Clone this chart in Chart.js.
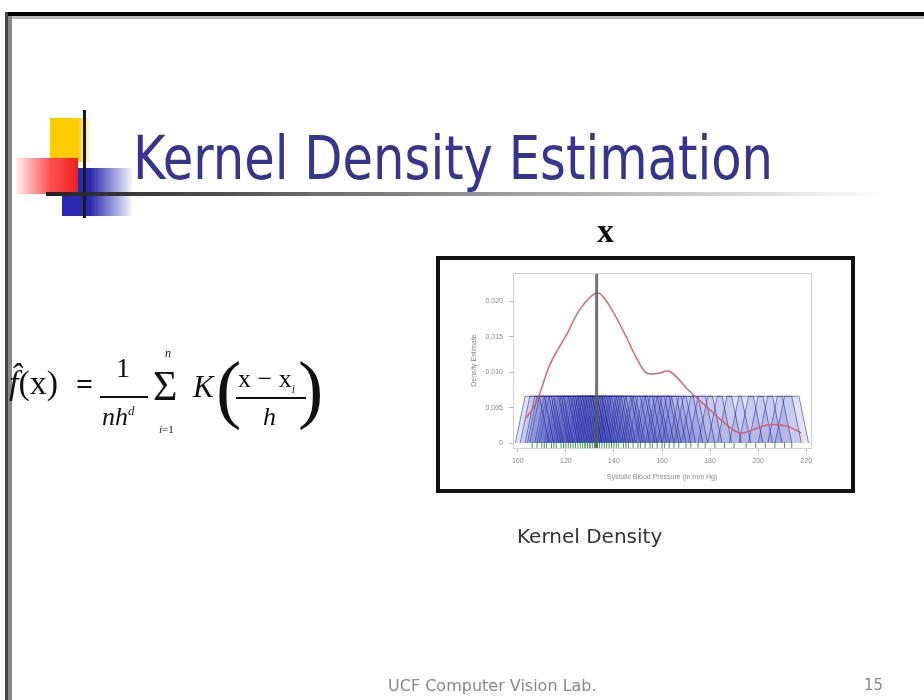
<!DOCTYPE html>
<html lang="en">
<head>
    <meta charset="UTF-8">
    <title>Kernel Density Estimation</title>
    <script src="https://cdn.jsdelivr.net/npm/chart.js"></script>
    <style>
        body {
            margin: 0;
            width: 924px;
            height: 700px;
            overflow: hidden;
            background: #fff;
            font-family: "DejaVu Sans", Arial, sans-serif;
        }

        #slide {
            position: relative;
            width: 924px;
            height: 700px;
            filter: blur(0.5px);
        }

        .abs { position: absolute; }

        /* slide frame */
        #frame-top { left: 5px; top: 12px; width: 919px; height: 4px; background: #000; }
        #frame-top2 { left: 8px; top: 16px; width: 916px; height: 3px; background: #bbb; }
        #frame-left { left: 5px; top: 12px; width: 3px; height: 688px; background: #444; }
        #frame-left2 { left: 8px; top: 16px; width: 4px; height: 684px; background: #888; }

        /* title decoration */
        #deco-yellow { left: 50px; top: 118px; width: 40px; height: 44px;
            background: linear-gradient(to right, #ffcc00 70%, rgba(255, 220, 80, 0.1)); }
        #deco-red { left: 16px; top: 158px; width: 62px; height: 36px;
            background: linear-gradient(to right, rgba(255, 170, 170, 0.2), #ff5050 55%, #ee2020); }
        #deco-blue { left: 62px; top: 168px; width: 70px; height: 48px;
            background: linear-gradient(to right, #2828b0 40%, rgba(70, 70, 210, 0.05)); }
        #deco-vline { left: 83px; top: 110px; width: 3px; height: 108px; background: #1a1a1a; }
        #deco-hline { left: 46px; top: 192px; width: 840px; height: 4px;
            background: linear-gradient(to right, #222, #888 45%, #ddd 85%, rgba(255, 255, 255, 0)); }

        #title {
            left: 133px; top: 127px;
            font-family: "Liberation Sans Narrow", "DejaVu Sans Condensed", "Liberation Sans", sans-serif;
            font-size: 61px; line-height: 61px;
            color: #34358f;
            white-space: nowrap;
            transform-origin: 0 0;
        }

        /* formula */
        .serif { font-family: "Liberation Serif", "DejaVu Serif", serif; color: #111; white-space: nowrap; }
        .bar { position: absolute; height: 2px; background: #111; }

        #chart-frame {
            left: 436px; top: 256px;
            width: 411px; height: 229px;
            border: 4px solid #111;
            background: #fff;
        }
        #chart { position: absolute; left: 440px; top: 260px; }

        #x-label { left: 597px; top: 214px; font-size: 34px; line-height: 34px; font-weight: bold; }

        #caption { left: 517px; top: 524px; font-size: 20px; color: #333; white-space: nowrap; }
        #footer { left: 388px; top: 676px; font-size: 16px; color: #888; white-space: nowrap; }
        #page { left: 864px; top: 676px; font-size: 15px; color: #888; }
    </style>
</head>
<body>
<div id="slide">
    <div class="abs" id="frame-top"></div>
    <div class="abs" id="frame-top2"></div>
    <div class="abs" id="frame-left"></div>
    <div class="abs" id="frame-left2"></div>

    <div class="abs" id="deco-yellow"></div>
    <div class="abs" id="deco-blue"></div>
    <div class="abs" id="deco-red"></div>
    <div class="abs" id="deco-vline"></div>
    <div class="abs" id="deco-hline"></div>
    <div class="abs" id="title">Kernel Density Estimation</div>

    <!-- f^(x) = 1/(nh^d) sum K((x - x_i)/h) -->
    <div class="abs serif" style="left:9px; top:364px; font-size:34px;"><i>f̂</i>(x)</div>
    <div class="abs serif" style="left:76px; top:367px; font-size:30px; font-weight:bold;">=</div>
    <div class="abs serif" style="left:116px; top:352px; font-size:28px;">1</div>
    <div class="bar" style="left:100px; top:396px; width:48px;"></div>
    <div class="abs serif" style="left:102px; top:402px; font-size:26px;"><i>nh</i><sup style="font-size:13px;"><i>d</i></sup></div>
    <div class="abs serif" style="left:165px; top:346px; font-size:12px;"><i>n</i></div>
    <div class="abs serif" style="left:153px; top:362px; font-size:42px;">&Sigma;</div>
    <div class="abs serif" style="left:159px; top:423px; font-size:11px;"><i>i</i>=1</div>
    <div class="abs serif" style="left:193px; top:369px; font-size:31px;"><i>K</i></div>
    <div class="abs serif" style="left:216px; top:345px; font-size:76px; font-weight:300;">(</div>
    <div class="abs serif" style="left:238px; top:364px; font-size:26px;">x &minus; x<sub style="font-size:12px;"><i>i</i></sub></div>
    <div class="bar" style="left:236px; top:397px; width:70px;"></div>
    <div class="abs serif" style="left:263px; top:402px; font-size:26px;"><i>h</i></div>
    <div class="abs serif" style="left:298px; top:345px; font-size:76px; font-weight:300;">)</div>

    <div class="abs serif" id="x-label">x</div>
    <div class="abs" id="chart-frame"></div>
    <canvas id="chart" width="411" height="229"></canvas>

    <div class="abs" id="caption">Kernel Density</div>
    <div class="abs" id="footer">UCF Computer Vision Lab.</div>
    <div class="abs" id="page">15</div>
</div>

<script>
    // tick labels
    const xTicks = [100, 120, 140, 160, 180, 200, 220];
    const yTicks = [0, 0.005, 0.010, 0.015, 0.020];
    const yTickLabels = ['0', '0.005', '0.010', '0.015', '0.020'];

    // red density estimate (x, density)
    const densityX = [103.5, 107.9, 113.4, 120.3, 125.9, 132.8, 137.0, 143.9, 149.4, 153.5, 158.0, 163.2, 171.5, 179.9, 186.8, 192.5, 198.0, 204.9, 211.8, 218.0];
    const densityY = [0.0035, 0.0059, 0.0111, 0.0153, 0.0189, 0.0212, 0.0200, 0.0158, 0.0120, 0.0099, 0.0098, 0.0101, 0.0073, 0.0047, 0.0026, 0.0014, 0.0019, 0.0026, 0.0024, 0.0014];

    // sample points (rug) and the kernel shape drawn on each
    const samples = [106, 108, 110, 111, 112, 114, 115, 116, 118, 119, 120, 121, 122, 123, 124, 125, 126, 127, 128, 128,
        129, 130, 130, 131, 132, 132, 133, 134, 135, 136, 137, 138, 139, 140, 141, 142, 144, 145, 146, 148,
        150, 151, 153, 155, 156, 158, 160, 161, 163, 165, 167, 170, 172, 175, 178, 182, 186, 190, 195, 199,
        203, 207, 211, 214];
    const kernelOffsets = [-7, -3, 3, 7];
    const kernelHeights = [0, 0.0066, 0.0066, 0];
    const rugLevel = -0.0003;

    // marked point x
    const markX = 132.8;
    const markSpan = [-0.0007, 0.024];

    const ctx = document.getElementById('chart').getContext('2d');

    const kernelSets = samples.map(s => ({
        type: 'line',
        data: kernelOffsets.map((o, i) => ({ x: s + o, y: kernelHeights[i] })),
        borderColor: 'rgba(35, 35, 140, 0.55)',
        backgroundColor: 'rgba(70, 80, 190, 0.16)',
        borderWidth: 1,
        fill: 'origin',
        pointRadius: 0,
        order: 4
    }));

    const boxPlugin = {
        id: 'plotBox',
        afterDraw(chart) {
            const a = chart.chartArea;
            const c = chart.ctx;
            c.save();
            c.strokeStyle = '#cfcfcf';
            c.lineWidth = 1;
            c.strokeRect(a.left + 0.5, a.top + 0.5, a.right - a.left, a.bottom - a.top);
            c.restore();
        }
    };

    new Chart(ctx, {
        type: 'line',
        data: {
            datasets: [
                ...kernelSets,
                {
                    type: 'scatter',
                    data: samples.map(s => ({ x: s, y: rugLevel })),
                    pointStyle: 'line',
                    rotation: 90,
                    pointRadius: 3,
                    borderColor: 'rgba(40, 140, 60, 0.85)',
                    borderWidth: 1,
                    order: 3
                },
                {
                    type: 'line',
                    data: densityX.map((x, i) => ({ x: x, y: densityY[i] })),
                    borderColor: 'rgba(220, 85, 95, 0.9)',
                    borderWidth: 1.5,
                    tension: 0.35,
                    pointRadius: 0,
                    fill: false,
                    order: 2
                },
                {
                    type: 'line',
                    data: markSpan.map(y => ({ x: markX, y: y })),
                    borderColor: 'rgba(90, 90, 90, 0.85)',
                    borderWidth: 3,
                    pointRadius: 0,
                    order: 1
                }
            ]
        },
        options: {
            responsive: false,
            devicePixelRatio: 1,
            animation: false,
            layout: { padding: { left: 30, right: 40, top: 13, bottom: 0 } },
            plugins: {
                legend: { display: false },
                tooltip: { enabled: false }
            },
            scales: {
                x: {
                    type: 'linear',
                    min: 98,
                    max: 222,
                    afterBuildTicks: s => { s.ticks = xTicks.map(v => ({ value: v })); },
                    afterFit: s => { s.height = 41; },
                    grid: { drawOnChartArea: false, drawTicks: true, tickLength: 4, color: '#bbb' },
                    border: { display: false },
                    ticks: { font: { size: 7, family: 'Arial' }, color: '#888', padding: 5, maxRotation: 0 },
                    title: {
                        display: true,
                        text: 'Systolic Blood Pressure (in mm Hg)',
                        font: { size: 7, family: 'Arial' },
                        color: '#888',
                        padding: { top: 0, bottom: 8 }
                    }
                },
                y: {
                    type: 'linear',
                    min: -0.0007,
                    max: 0.024,
                    afterBuildTicks: s => { s.ticks = yTicks.map(v => ({ value: v })); },
                    afterFit: s => { s.width = 43; },
                    grid: { drawOnChartArea: false, drawTicks: true, tickLength: 4, color: '#bbb' },
                    border: { display: false },
                    ticks: {
                        font: { size: 7, family: 'Arial' },
                        color: '#888',
                        padding: 6,
                        callback: (v) => yTickLabels[yTicks.indexOf(v)]
                    },
                    title: {
                        display: true,
                        text: 'Density Estimate',
                        font: { size: 7, family: 'Arial' },
                        color: '#888',
                        padding: 0
                    }
                }
            }
        },
        plugins: [boxPlugin]
    });

    // squeeze the title to the slide's narrow width
    const title = document.getElementById('title');
    const w = title.getBoundingClientRect().width;
    title.style.transform = 'scaleX(' + (640 / w) + ')';
</script>
</body>
</html>
